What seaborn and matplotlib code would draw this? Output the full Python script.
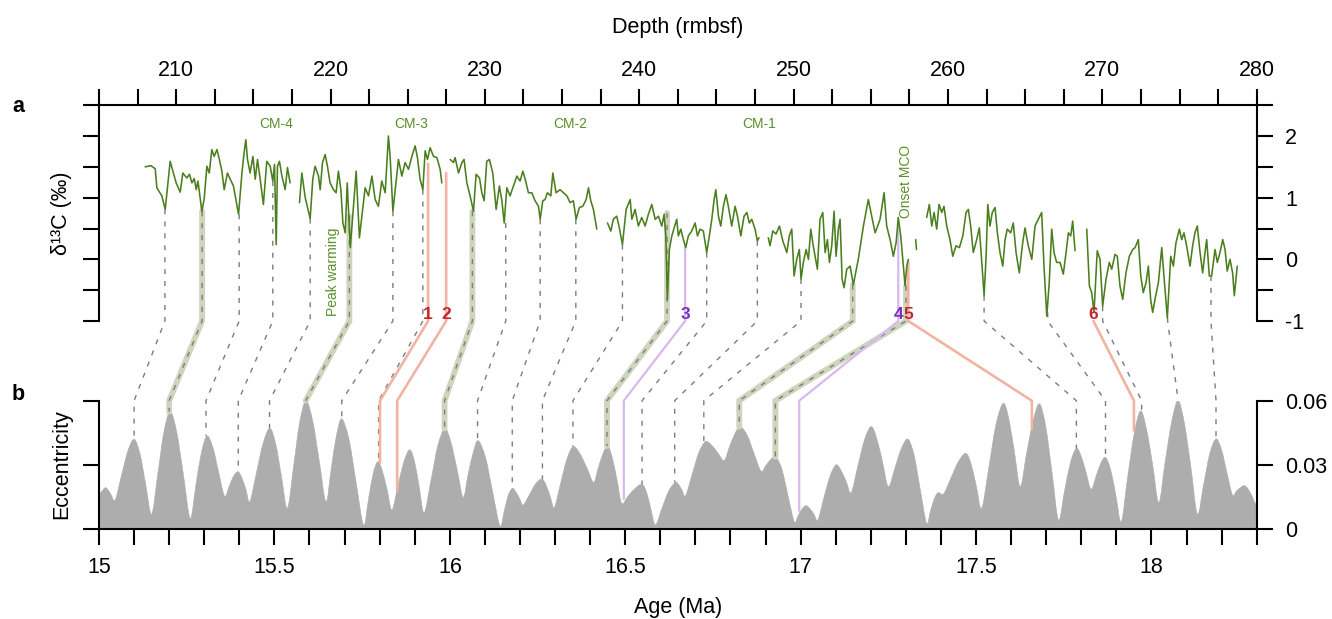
import numpy as np
import pandas as pd
import matplotlib
matplotlib.use("Agg")
import matplotlib.pyplot as plt
from matplotlib.lines import Line2D
from matplotlib.path import Path
from matplotlib.patches import PathPatch
import seaborn as sns

# ---------------- data ----------------
# delta13C record (depth in rmbsf, value in permil), one list per continuous core segment
depth_s1 = [207.99, 208.36, 208.64, 208.75, 209.07, 209.29, 209.61, 210.00, 210.26, 210.43,
            210.69, 210.86, 211.02, 211.17, 211.30, 211.41, 211.51, 211.66, 211.81, 211.99,
            212.14, 212.31, 212.46, 212.64, 212.80, 212.96, 213.11, 213.32, 213.50, 213.71,
            214.04, 214.26, 214.40, 214.51, 214.62, 214.79, 214.97, 215.12, 215.27, 215.44,
            215.65, 215.87, 216.09, 216.26, 216.37, 216.48, 216.56, 216.69, 216.85, 217.06,
            217.21, 217.38]
d13c_s1 = [1.50, 1.52, 1.47, 1.16, 1.03, 0.81, 1.59, 1.24, 1.09, 1.40,
           1.32, 1.38, 1.24, 1.31, 1.13, 1.27, 1.08, 0.78, 0.97, 1.51,
           1.40, 1.78, 1.67, 1.78, 1.62, 1.43, 1.13, 1.40, 1.30, 1.19,
           0.73, 1.40, 1.73, 1.94, 1.62, 1.40, 1.67, 1.30, 1.62, 1.30,
           0.89, 1.59, 1.51, 1.27, 1.54, 0.24, 1.51, 1.59, 1.35, 1.13,
           1.49, 1.24]

depth_s2 = [217.99, 218.14, 218.36, 218.68, 218.85, 219.00, 219.22, 219.33, 219.48, 219.65,
            219.80, 219.97, 220.19, 220.36, 220.51, 220.67, 220.80, 220.95, 221.08, 221.28,
            221.66, 221.87, 222.24, 222.46, 222.68, 222.89, 223.10, 223.32, 223.54,
            223.75, 223.86, 224.04, 224.19, 224.40, 224.62, 224.83, 225.05, 225.27, 225.48,
            225.63, 225.80, 225.98, 226.13, 226.28, 226.45, 226.67, 226.89, 227.10, 227.21]
d13c_s2 = [0.92, 1.40, 1.00, 0.66, 1.30, 1.51, 1.35, 1.13, 1.57, 1.70,
           1.51, 1.24, 1.13, 1.08, 1.43, 1.13, 0.59, 0.43, 1.24, 0.19,
           1.43, 0.35, 1.16, 1.03, 1.35, 0.97, 0.86, 1.27, 1.08,
           2.00, 1.67, 0.78, 1.13, 1.62, 1.35, 1.57, 1.46, 1.67, 1.84,
           1.65, 1.30, 1.13, 1.76, 1.62, 1.81, 1.67, 1.65, 1.46, 1.24]

depth_s3 = [227.75, 227.96, 228.07, 228.29, 228.51, 228.65, 228.83, 229.04, 229.26, 229.43,
            229.65, 229.80, 229.95, 230.12, 230.29, 230.51, 230.73, 230.94, 231.10, 231.25,
            231.42, 231.63, 231.85, 232.07, 232.28, 232.46, 232.61, 232.82, 233.04, 233.25,
            233.47, 233.58, 233.75, 233.90, 234.05, 234.27, 234.40, 234.61, 234.87, 235.09,
            235.31, 235.52, 235.73, 235.91, 236.12, 236.34, 236.56, 236.71, 236.86, 237.03,
            237.25]
d13c_s3 = [1.62, 1.57, 1.65, 1.40, 1.57, 1.62, 1.24, 1.03, 0.78, 1.38,
           1.32, 1.08, 0.95, 1.59, 1.62, 1.40, 0.81, 1.19, 0.95, 0.59,
           1.16, 1.03, 1.19, 1.35, 1.27, 1.43, 1.30, 1.08, 1.08, 0.95,
           0.86, 0.65, 0.95, 0.97, 1.08, 1.03, 1.40, 1.08, 1.13, 1.08,
           1.03, 0.92, 0.95, 0.65, 0.84, 0.86, 0.97, 1.16, 0.95, 0.81,
           0.49]

depth_s4 = [237.94, 238.16, 238.32, 238.54, 238.71, 238.91, 239.15, 239.41, 239.52, 239.73,
            239.94, 240.16, 240.38, 240.59, 240.81, 241.03, 241.24, 241.46, 241.61, 241.72,
            241.82, 241.95, 242.11, 242.26, 242.43, 242.53, 242.69, 242.86, 243.01, 243.18,
            243.40, 243.62, 243.77, 243.94, 244.15, 244.37, 244.54, 244.70, 244.85, 244.96,
            245.13, 245.28, 245.45, 245.62, 245.77, 245.99, 246.21, 246.36, 246.58, 246.79,
            246.97, 247.13, 247.29, 247.50, 247.65, 247.76]
d13c_s4 = [0.59, 0.46, 0.65, 0.70, 0.51, 0.24, 0.81, 0.97, 0.65, 0.81,
           0.54, 0.68, 0.54, 0.73, 0.89, 0.65, 0.70, 0.54, 0.73, 0.38,
           -0.65, 0.16, 0.38, 0.51, 0.65, 0.38, 0.49, 0.32, 0.19, 0.38,
           0.46, 0.59, 0.38, 0.49, 0.46, 0.11, 0.38, 0.65, 0.97, 1.13,
           0.70, 0.54, 0.86, 1.05, 0.86, 0.54, 0.86, 0.70, 0.38, 0.70,
           0.76, 0.59, 0.65, 0.49, 0.30, 0.35]

depth_s5 = [248.36, 248.47, 248.65, 248.86, 249.08, 249.30, 249.56, 249.72, 249.88, 250.03,
            250.20, 250.37, 250.48, 250.63, 250.81, 250.96, 251.11, 251.24, 251.39, 251.54,
            251.71, 251.89, 252.04, 252.19, 252.32, 252.47, 252.62, 252.75, 252.90, 253.01,
            253.14, 253.27, 253.44, 253.66, 253.87, 254.19, 254.52, 254.84, 255.06, 255.28,
            255.60, 255.86, 256.03, 256.25, 256.46, 256.64, 256.78, 256.94, 257.11, 257.22,
            257.33, 257.43]
d13c_s5 = [0.35, 0.22, 0.46, 0.41, 0.54, 0.30, 0.11, 0.38, 0.49, -0.27,
           0.00, 0.16, -0.32, -0.05, 0.16, 0.00, 0.49, 0.27, 0.05, -0.16,
           0.65, 0.76, 0.11, 0.32, -0.05, 0.22, 0.78, 0.05, 0.49, 0.65,
           -0.32, -0.46, -0.16, -0.11, -0.41, 0.00, 0.54, 0.97, 0.70, 0.43,
           0.65, 1.08, 0.54, 0.32, 0.05, 0.27, 0.68, 0.38, -0.11, -0.43,
           -0.11, 0.00]

depth_s6 = [257.91, 257.96]
d13c_s6 = [0.32, 0.16]

depth_s7 = [258.62, 258.79, 258.95, 259.10, 259.27, 259.42, 259.60, 259.74, 259.92, 260.13,
            260.31, 260.52, 260.74, 260.96, 261.17, 261.32, 261.47, 261.64, 261.86, 262.03,
            262.19, 262.34, 262.47, 262.58, 262.72, 262.87, 263.05, 263.20, 263.37, 263.55,
            263.70, 263.84, 264.06, 264.23, 264.41, 264.62, 264.84, 264.99, 265.20, 265.43,
            265.64, 265.85, 266.07, 266.22, 266.40, 266.56, 266.72, 266.87, 267.04, 267.26,
            267.47, 267.65, 267.80, 267.95, 268.08, 268.23]
d13c_s7 = [0.68, 0.89, 0.54, 0.76, 0.49, 0.89, 0.76, 0.86, 0.54, 0.32,
           0.05, 0.22, 0.19, 0.38, 0.76, 0.81, 0.54, 0.11, 0.32, 0.51,
           -0.05, -0.59, 0.05, 0.89, 0.54, 0.76, 0.84, 0.43, 0.11, -0.11,
           0.32, 0.49, 0.43, 0.59, 0.11, -0.22, 0.27, 0.51, 0.22, 0.00,
           0.54, 0.65, 0.76, -0.11, -0.92, -0.38, 0.49, 0.11, -0.05, -0.05,
           -0.24, 0.11, 0.43, 0.38, 0.62, 0.14]

depth_s8 = [268.99, 269.16, 269.31, 269.46, 269.67, 269.85, 270.02, 270.24, 270.45, 270.61,
            270.82, 270.97, 271.14, 271.32, 271.53, 271.75, 271.97, 272.12, 272.33, 272.49,
            272.65, 272.83, 272.98, 273.13, 273.26, 273.41, 273.63, 273.85, 273.99, 274.21,
            274.43, 274.60, 274.77, 274.99, 275.14, 275.29, 275.46, 275.68, 275.85, 276.00,
            276.15, 276.33, 276.50, 276.65, 276.76, 276.93, 277.08, 277.30, 277.45, 277.62,
            277.80, 277.95, 278.09, 278.27, 278.44, 278.55, 278.74]
d13c_s8 = [0.49, -0.43, -0.54, -0.86, 0.14, 0.00, -0.76, -0.32, -0.05, -0.16,
           0.08, 0.05, -0.43, -0.65, -0.22, 0.05, 0.16, 0.19, 0.32, -0.27,
           -0.54, -0.38, -0.11, -0.65, -0.86, -0.65, -0.38, 0.19, -0.27, -0.95,
           0.05, -0.11, 0.27, 0.49, 0.32, 0.43, 0.22, -0.11, 0.22, 0.43,
           0.54, 0.11, -0.22, 0.11, 0.32, -0.27, -0.27, 0.16, -0.05, 0.11,
           0.32, 0.16, -0.19, 0.00, -0.22, -0.59, -0.11]

# Eccentricity solution (age in Ma)
ecc_age = [15.000, 15.010, 15.020, 15.033, 15.046,
           15.064, 15.082, 15.100, 15.117, 15.133, 15.150, 15.168, 15.185, 15.203,
           15.222, 15.241, 15.260, 15.276, 15.292, 15.308, 15.325, 15.341, 15.358,
           15.371, 15.383, 15.396, 15.407, 15.419, 15.430, 15.449, 15.468, 15.487,
           15.504, 15.520, 15.537, 15.555, 15.572, 15.590, 15.609, 15.628, 15.647,
           15.662, 15.677, 15.692, 15.713, 15.733, 15.754, 15.768, 15.781, 15.795,
           15.808, 15.822, 15.835, 15.852, 15.869, 15.886, 15.900, 15.913, 15.927,
           15.947, 15.966, 15.986, 16.003, 16.021, 16.038, 16.052, 16.067, 16.081,
           16.102, 16.122, 16.143, 16.155, 16.166, 16.178, 16.188, 16.199, 16.209,
           16.227, 16.244, 16.262, 16.274, 16.286, 16.298, 16.316, 16.334, 16.352,
           16.371, 16.391, 16.410, 16.423, 16.437, 16.450, 16.463, 16.477, 16.490,
           16.509, 16.529, 16.548, 16.561, 16.573, 16.586, 16.605, 16.624, 16.643,
           16.653, 16.662, 16.672, 16.691, 16.710, 16.729, 16.747, 16.764, 16.782,
           16.797, 16.813, 16.828, 16.848, 16.867, 16.887, 16.901, 16.915, 16.929,
           16.947, 16.964, 16.982, 16.993, 17.004, 17.015, 17.026, 17.038, 17.049,
           17.066, 17.084, 17.101, 17.115, 17.130, 17.144, 17.163, 17.182, 17.201,
           17.217, 17.234, 17.250, 17.269, 17.287, 17.306, 17.324, 17.341, 17.359,
           17.370, 17.381, 17.392, 17.408,
           17.429, 17.450, 17.471, 17.486, 17.501, 17.516, 17.537, 17.557, 17.578,
           17.594, 17.610, 17.626, 17.644, 17.663, 17.681, 17.699, 17.717, 17.735,
           17.752, 17.769, 17.786, 17.800, 17.814, 17.828, 17.842, 17.855, 17.869,
           17.884, 17.899, 17.914, 17.932, 17.951, 17.969, 17.986, 18.004, 18.021,
           18.039, 18.058, 18.076, 18.094, 18.113, 18.131, 18.149, 18.166, 18.184,
           18.200, 18.215, 18.231, 18.242, 18.254, 18.265, 18.276, 18.287, 18.298,
           18.310]
ecc_value = [0.0159, 0.0180, 0.0193, 0.0165, 0.0136,
             0.0250, 0.0363, 0.0420, 0.0350, 0.0210, 0.0070, 0.0262, 0.0453, 0.0549,
             0.0449, 0.0250, 0.0050, 0.0204, 0.0358, 0.0435, 0.0379, 0.0266, 0.0154,
             0.0200, 0.0245, 0.0268, 0.0240, 0.0184, 0.0128, 0.0265, 0.0402, 0.0471,
             0.0396, 0.0247, 0.0097, 0.0298, 0.0499, 0.0600, 0.0506, 0.0317, 0.0128,
             0.0283, 0.0438, 0.0515, 0.0416, 0.0217, 0.0019, 0.0137, 0.0256, 0.0315,
             0.0270, 0.0179, 0.0089, 0.0201, 0.0314, 0.0370, 0.0311, 0.0194, 0.0076,
             0.0234, 0.0391, 0.0470, 0.0406, 0.0277, 0.0148, 0.0254, 0.0360, 0.0413,
             0.0333, 0.0174, 0.0014, 0.0084, 0.0155, 0.0190, 0.0174, 0.0143, 0.0112,
             0.0161, 0.0210, 0.0234, 0.0207, 0.0154, 0.0101, 0.0215, 0.0328, 0.0385,
             0.0352, 0.0285, 0.0218, 0.0286, 0.0354, 0.0388, 0.0334, 0.0227, 0.0120,
             0.0156, 0.0191, 0.0209, 0.0171, 0.0095, 0.0019, 0.0099, 0.0178, 0.0218,
             0.0206, 0.0181, 0.0156, 0.0257, 0.0358, 0.0409, 0.0391, 0.0356, 0.0320,
             0.0384, 0.0447, 0.0479, 0.0437, 0.0354, 0.0271, 0.0298, 0.0325, 0.0338,
             0.0277, 0.0156, 0.0034, 0.0064, 0.0094, 0.0109, 0.0096, 0.0069, 0.0042,
             0.0145, 0.0248, 0.0300, 0.0274, 0.0222, 0.0170, 0.0294, 0.0417, 0.0479,
             0.0423, 0.0310, 0.0198, 0.0287, 0.0376, 0.0420, 0.0341, 0.0184, 0.0027,
             0.0084, 0.0141, 0.0170, 0.0165,
             0.0241, 0.0316, 0.0354, 0.0303, 0.0200, 0.0097, 0.0293, 0.0490, 0.0588,
             0.0510, 0.0354, 0.0198, 0.0353, 0.0508, 0.0585, 0.0476, 0.0259, 0.0042,
             0.0176, 0.0310, 0.0377, 0.0339, 0.0262, 0.0186, 0.0246, 0.0305, 0.0335,
             0.0275, 0.0154, 0.0034, 0.0241, 0.0448, 0.0552, 0.0466, 0.0295, 0.0123,
             0.0314, 0.0505, 0.0600, 0.0494, 0.0282, 0.0070, 0.0210, 0.0351, 0.0421,
             0.0369, 0.0264, 0.0159, 0.0177, 0.0194, 0.0203, 0.0186, 0.0153, 0.0120,
             0.0175]

# Tie points between the delta13C record (depth) and eccentricity (age)
tie_depth = [209.27, 211.68, 214.08, 216.26, 218.68, 221.22, 224.04, 225.98, 226.32, 227.49,
             229.19, 231.35, 233.58, 235.89, 238.91, 241.80, 242.97, 244.37, 247.65, 250.48,
             253.83, 257.28, 256.78, 257.43, 262.34, 266.46, 269.42, 270.02, 274.23, 277.04]
tie_d13c = [0.81, 0.78, 0.73, 1.27, 0.66, 0.70, 0.78, 1.13, 1.55, 1.40,
            0.78, 0.59, 0.65, 0.65, 0.24, 0.75, 0.19, 0.11, 0.30, -0.32,
            -0.41, -0.43, 0.60, -0.05, -0.59, -0.86, -1.00, -0.76, -0.95, -0.27]
tie_age = [15.100, 15.200, 15.305, 15.397, 15.486, 15.589, 15.692, 15.797, 15.801, 15.850,
           15.985, 16.079, 16.178, 16.264, 16.351, 16.448, 16.496, 16.548, 16.641, 16.724,
           16.825, 16.928, 16.996, 17.659, 17.786, 17.869, 17.950, 17.972, 18.076, 18.184]
tie_ecc = [0.0420, 0.0549, 0.0435, 0.0268, 0.0471, 0.0600, 0.0515, 0.0315, 0.0310, 0.0180,
           0.0470, 0.0413, 0.0190, 0.0234, 0.0385, 0.0388, 0.0140, 0.0209, 0.0218, 0.0409,
           0.0479, 0.0338, 0.0085, 0.0470, 0.0377, 0.0335, 0.0460, 0.0552, 0.0600, 0.0421]
tie_kind = ['dash', 'green', 'dash', 'dash', 'dash', 'green', 'dash', 'dash', 'red', 'red',
            'green', 'dash', 'dash', 'dash', 'dash', 'green', 'purple', 'dash', 'dash', 'dash',
            'green', 'green', 'purple', 'red', 'dash', 'dash', 'red', 'dash', 'dash', 'dash']
tie_label = ['', '', '', '', '', '', '', '', '1', '2',
             '', '', '', '', '', '', '3', '', '', '',
             '', '', '4', '5', '', '', '6', '', '', '']

cm_labels = ['CM-4', 'CM-3', 'CM-2', 'CM-1']
cm_depth = [216.46, 225.22, 235.52, 247.78]

# ---------------- style ----------------
sns.set_style("ticks")
plt.rcParams["font.family"] = ["Liberation Sans", "DejaVu Sans"]
for k in ["text.color", "axes.labelcolor", "xtick.color", "ytick.color", "axes.edgecolor"]:
    plt.rcParams[k] = "black"

CURVE = "#4b7f1e"
TXTGREEN = "#5a8f2b"
ECC = "#adadad"
DASH = "#7c7c7c"
BAND = "#cfd5bd"
SALMON = "#f2b4a2"
LILAC = "#d8b8ef"
RED = "#c1272d"
PURPLE = "#7a2fbf"
FS = 15.5

W, H = 1332, 619
fig = plt.figure(figsize=(W / 100, H / 100), dpi=100)


def frac(x0, y0, x1, y1):
    return [x0 / W, 1 - y1 / H, (x1 - x0) / W, (y1 - y0) / H]


ax_top = fig.add_axes(frac(99, 105.2, 1256.7, 321))
ax_bot = fig.add_axes(frac(99, 400.7, 1256.7, 529))
ax_top.set_zorder(3)
ax_top.patch.set_alpha(0)
ax_bot.patch.set_alpha(0)

# ---- top panel: delta13C vs depth ----
segs = [(depth_s1, d13c_s1), (depth_s2, d13c_s2), (depth_s3, d13c_s3), (depth_s4, d13c_s4),
        (depth_s5, d13c_s5), (depth_s6, d13c_s6), (depth_s7, d13c_s7), (depth_s8, d13c_s8)]
df = pd.concat([pd.DataFrame({"depth": d, "d13c": v, "seg": i}) for i, (d, v) in enumerate(segs)],
               ignore_index=True)
sns.lineplot(data=df, x="depth", y="d13c", units="seg", estimator=None, sort=False,
             color=CURVE, lw=1.15, ax=ax_top, legend=False, zorder=3)

ax_top.set_xlim(205, 280)
ax_top.set_ylim(-1, 2.5)
ax_top.set_xlabel("")
ax_top.set_ylabel("")
ax_top.xaxis.set_ticks_position("top")
dticks = np.arange(205, 280.01, 2.5)
ax_top.set_xticks(dticks)
ax_top.set_xticklabels([f"{t:.0f}" if t % 10 == 0 else "" for t in dticks])
yt = np.arange(-1, 2.51, 0.5)
ax_top.set_yticks(yt)
ax_top.set_yticklabels([f"{t:.0f}" if float(t).is_integer() else "" for t in yt])
ax_top.tick_params(axis="y", left=True, right=True, labelleft=False, labelright=True, pad=9)
ax_top.tick_params(axis="x", top=True, bottom=False, labeltop=True, labelbottom=False, pad=6)
ax_top.tick_params(direction="out", length=11.5, width=1.5, labelsize=FS)
for s in ["top", "left", "right"]:
    ax_top.spines[s].set_visible(True)
    ax_top.spines[s].set_linewidth(1.5)
ax_top.spines["bottom"].set_visible(False)

# ---- bottom panel: eccentricity vs age (filled, drawn as a smooth curve through the values) ----
ex = np.asarray(ecc_age, dtype=float)
ey = np.asarray(ecc_value, dtype=float)
n = len(ex)
verts = [(ex[0], 0.0), (ex[0], ey[0])]
codes = [Path.MOVETO, Path.LINETO]
for i in range(n - 1):
    xm, ym = (ex[i - 1], ey[i - 1]) if i > 0 else (ex[i], ey[i])
    xp, yp = (ex[i + 2], ey[i + 2]) if i + 2 < n else (ex[i + 1], ey[i + 1])
    c1 = (ex[i] + (ex[i + 1] - xm) / 6.0, ey[i] + (ey[i + 1] - ym) / 6.0)
    c2 = (ex[i + 1] - (xp - ex[i]) / 6.0, ey[i + 1] - (yp - ey[i]) / 6.0)
    verts += [c1, c2, (ex[i + 1], ey[i + 1])]
    codes += [Path.CURVE4] * 3
verts += [(ex[-1], 0.0), (ex[0], 0.0)]
codes += [Path.LINETO, Path.CLOSEPOLY]
ax_bot.add_patch(PathPatch(Path(verts, codes), facecolor=ECC, edgecolor=ECC, lw=0.4,
                           transform=ax_bot.transData, zorder=1))
ax_bot.set_xlim(15, 18.3)
ax_bot.set_ylim(0, 0.06)
aticks = np.round(np.arange(15, 18.301, 0.1), 1)
ax_bot.set_xticks(aticks)
ax_bot.set_xticklabels([f"{t:g}" if round(t * 10) % 5 == 0 else "" for t in aticks])
ax_bot.set_yticks([0, 0.03, 0.06])
ax_bot.set_yticklabels(["0", "0.03", "0.06"])
ax_bot.tick_params(axis="y", left=True, right=True, labelleft=False, labelright=True, pad=9)
ax_bot.tick_params(axis="x", pad=9)
ax_bot.tick_params(direction="out", length=11.5, width=1.5, labelsize=FS)
for s in ["bottom", "left", "right"]:
    ax_bot.spines[s].set_visible(True)
    ax_bot.spines[s].set_linewidth(1.5)
ax_bot.spines["top"].set_visible(False)

# ---- tie lines (drawn across both panels) ----
inv = fig.transFigure.inverted()
for d, v, a, e, kind in zip(tie_depth, tie_d13c, tie_age, tie_ecc, tie_kind):
    pts = np.array([ax_top.transData.transform((d, v)),
                    ax_top.transData.transform((d, -1.0)),
                    ax_bot.transData.transform((a, 0.06)),
                    ax_bot.transData.transform((a, e))])
    p = inv.transform(pts)
    if kind == "green":
        fig.add_artist(Line2D(p[:, 0], p[:, 1], transform=fig.transFigure, color=BAND,
                              lw=4.2, solid_joinstyle="miter", zorder=1))
    if kind in ("green", "dash"):
        fig.add_artist(Line2D(p[:, 0], p[:, 1], transform=fig.transFigure, color=DASH,
                              lw=1.0, ls=(0, (3.6, 5.0)), zorder=2))
    elif kind == "red":
        fig.add_artist(Line2D(p[:, 0], p[:, 1], transform=fig.transFigure, color=SALMON,
                              lw=1.9, zorder=2))
    elif kind == "purple":
        fig.add_artist(Line2D(p[:, 0], p[:, 1], transform=fig.transFigure, color=LILAC,
                              lw=1.6, zorder=2))

for d, lab, kind in zip(tie_depth, tie_label, tie_kind):
    if lab:
        ax_top.text(d, -0.9, lab, color=RED if kind == "red" else PURPLE, fontsize=12.5,
                    fontweight="bold", ha="center", va="center", zorder=5)

# ---- annotations ----
for lab, d in zip(cm_labels, cm_depth):
    ax_top.text(d, 2.2, lab, color=TXTGREEN, fontsize=10, ha="center", va="center")
ax_top.text(220.17, -0.2, "Peak warming", color=TXTGREEN, fontsize=10, rotation=90,
            ha="center", va="center")
ax_top.text(257.28, 1.26, "Onset MCO", color=TXTGREEN, fontsize=10, rotation=90,
            ha="center", va="center")

fig.text(678 / W, 1 - 27 / H, "Depth (rmbsf)", fontsize=FS, ha="center", va="center")
fig.text(678 / W, 1 - 617.5 / H, "Age (Ma)", fontsize=FS, ha="center", va="bottom")
fig.text(62 / W, 1 - 213 / H, "δ¹³C (‰)", fontsize=FS, rotation=90, ha="center", va="center")
fig.text(61.5 / W, 1 - 464 / H, "Eccentricity", fontsize=FS, rotation=90, ha="center", va="center")
fig.text(18 / W, 1 - 106 / H, "a", fontsize=FS, fontweight="bold", ha="center", va="center")
fig.text(18.5 / W, 1 - 394 / H, "b", fontsize=FS, fontweight="bold", ha="center", va="center")

fig.savefig("out.png", dpi=100)
